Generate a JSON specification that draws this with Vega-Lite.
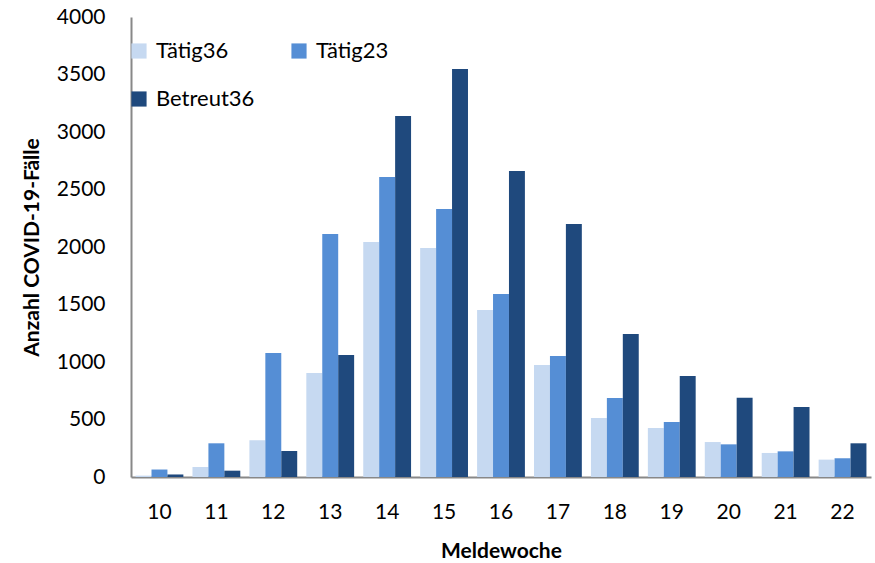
{
  "$schema": "https://vega.github.io/schema/vega-lite/v6.json",
  "autosize": "none",
  "width": 740,
  "height": 460,
  "padding": {"left": 131, "top": 17, "right": 4, "bottom": 86},
  "background": "white",
  "config": {
    "font": "Lato",
    "view": {"stroke": null},
    "axis": {"grid": false, "ticks": false, "domainColor": "#888888", "domainWidth": 2, "labelColor": "#000000", "titleColor": "#000000", "labelFont": "Lato", "titleFont": "Lato"}
  },
  "data": {
    "values": [
      {"woche": "10", "serie": "Tätig36", "faelle": 12},
      {"woche": "10", "serie": "Tätig23", "faelle": 65},
      {"woche": "10", "serie": "Betreut36", "faelle": 22},
      {"woche": "11", "serie": "Tätig36", "faelle": 87},
      {"woche": "11", "serie": "Tätig23", "faelle": 293},
      {"woche": "11", "serie": "Betreut36", "faelle": 55},
      {"woche": "12", "serie": "Tätig36", "faelle": 319},
      {"woche": "12", "serie": "Tätig23", "faelle": 1078},
      {"woche": "12", "serie": "Betreut36", "faelle": 226},
      {"woche": "13", "serie": "Tätig36", "faelle": 904},
      {"woche": "13", "serie": "Tätig23", "faelle": 2113},
      {"woche": "13", "serie": "Betreut36", "faelle": 1061},
      {"woche": "14", "serie": "Tätig36", "faelle": 2043},
      {"woche": "14", "serie": "Tätig23", "faelle": 2609},
      {"woche": "14", "serie": "Betreut36", "faelle": 3139},
      {"woche": "15", "serie": "Tätig36", "faelle": 1991},
      {"woche": "15", "serie": "Tätig23", "faelle": 2330},
      {"woche": "15", "serie": "Betreut36", "faelle": 3548},
      {"woche": "16", "serie": "Tätig36", "faelle": 1452},
      {"woche": "16", "serie": "Tätig23", "faelle": 1591},
      {"woche": "16", "serie": "Betreut36", "faelle": 2661},
      {"woche": "17", "serie": "Tätig36", "faelle": 974},
      {"woche": "17", "serie": "Tätig23", "faelle": 1052},
      {"woche": "17", "serie": "Betreut36", "faelle": 2200},
      {"woche": "18", "serie": "Tätig36", "faelle": 513},
      {"woche": "18", "serie": "Tätig23", "faelle": 687},
      {"woche": "18", "serie": "Betreut36", "faelle": 1243},
      {"woche": "19", "serie": "Tätig36", "faelle": 426},
      {"woche": "19", "serie": "Tätig23", "faelle": 478},
      {"woche": "19", "serie": "Betreut36", "faelle": 878},
      {"woche": "20", "serie": "Tätig36", "faelle": 304},
      {"woche": "20", "serie": "Tätig23", "faelle": 284},
      {"woche": "20", "serie": "Betreut36", "faelle": 690},
      {"woche": "21", "serie": "Tätig36", "faelle": 209},
      {"woche": "21", "serie": "Tätig23", "faelle": 223},
      {"woche": "21", "serie": "Betreut36", "faelle": 609},
      {"woche": "22", "serie": "Tätig36", "faelle": 151},
      {"woche": "22", "serie": "Tätig23", "faelle": 163},
      {"woche": "22", "serie": "Betreut36", "faelle": 293}
    ]
  },
  "mark": {"type": "bar"},
  "encoding": {
    "x": {
      "field": "woche", "type": "ordinal", "sort": null,
      "scale": {"paddingInner": 0.16, "paddingOuter": 0.08},
      "axis": {"title": "Meldewoche", "labelAngle": 0, "labelFontSize": 21, "labelPadding": 24, "titleFontSize": 21, "titleFontWeight": "bold", "titlePadding": 18}
    },
    "xOffset": {
      "field": "serie", "type": "nominal",
      "scale": {"domain": ["Tätig36", "Tätig23", "Betreut36"], "paddingInner": 0, "paddingOuter": 0}
    },
    "y": {
      "field": "faelle", "type": "quantitative",
      "scale": {"domain": [0, 4000], "nice": false},
      "axis": {"title": "Anzahl COVID-19-Fälle", "format": "d", "values": [0, 500, 1000, 1500, 2000, 2500, 3000, 3500, 4000], "labelFontSize": 21, "labelPadding": 26, "titleFontSize": 21, "titleFontWeight": "bold", "titlePadding": 14}
    },
    "color": {
      "field": "serie", "type": "nominal",
      "scale": {"domain": ["Tätig36", "Tätig23", "Betreut36"], "range": ["#c6d9f1", "#558ed5", "#1f497d"]},
      "legend": {
        "title": null, "orient": "none", "legendX": -3, "legendY": 23, "columns": 2, "direction": "horizontal",
        "symbolType": "square", "symbolSize": 230, "symbolStrokeWidth": 0, "symbolOpacity": 1,
        "labelFontSize": 22, "labelColor": "#000000", "labelOffset": 6,
        "rowPadding": 26, "columnPadding": 33
      }
    }
  }
}
